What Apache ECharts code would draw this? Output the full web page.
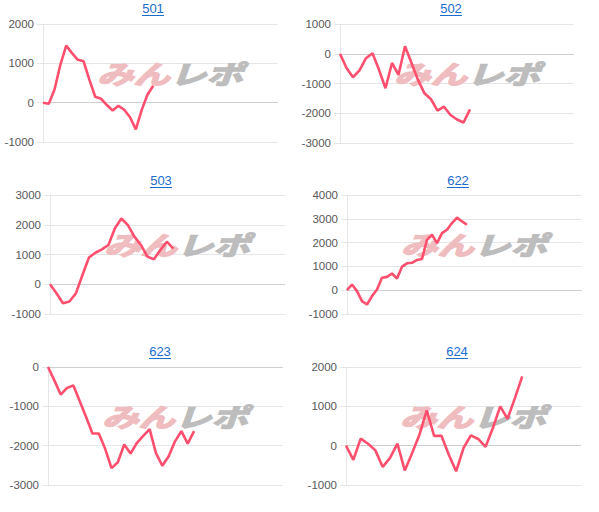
<!DOCTYPE html>
<html>
<head>
<meta charset="utf-8">
<script src="https://cdn.jsdelivr.net/npm/echarts@6/dist/echarts.min.js"></script>
<style>
html,body{margin:0;padding:0;background:#fff;}
#main{width:599px;height:512px;}
</style>
</head>
<body>
<div id="main"></div>
<script>
// ---- data ----
var titles = ['501', '502', '503', '622', '623', '624'];
var s501 = [0, -30, 340, 970, 1450, 1260, 1090, 1050, 580, 150, 100, -60, -200, -80, -180, -370, -680, -190, 200, 430];
var s502 = [0, -480, -790, -560, -150, 20, -540, -1160, -310, -710, 250, -310, -880, -1330, -1530, -1910, -1780, -2060, -2210, -2310, -1870];
var s503 = [0, -300, -640, -580, -300, 310, 900, 1060, 1170, 1320, 1880, 2210, 1990, 1600, 1320, 930, 840, 1150, 1430, 1200];
var s622 = [0, 240, -40, -460, -600, -250, 30, 520, 560, 700, 490, 990, 1130, 1150, 1270, 1310, 2120, 2330, 1980, 2400, 2540, 2820, 3050, 2890, 2750];
var s623 = [0, -340, -700, -530, -470, -870, -1270, -1690, -1690, -2080, -2570, -2420, -1970, -2200, -1930, -1750, -1580, -2190, -2510, -2270, -1890, -1630, -1950, -1630];
var s624 = [0, -360, 180, 50, -120, -540, -310, 50, -630, -190, 280, 900, 250, 250, -230, -650, -60, 260, 170, -30, 450, 1000, 680, 1210, 1760];
var seriesData = [s501, s502, s503, s622, s623, s624];
var xMax = [40.5, 36, 36.2, 47, 37, 32];
var yMin = [-1000, -3000, -1000, -1000, -3000, -1000];
var yMax = [2000, 1000, 3000, 4000, 0, 2000];

// ---- layout ----
var grids = [
  {left: 43, top: 24, width: 235, height: 118},
  {left: 340, top: 24, width: 234, height: 119},
  {left: 50, top: 195, width: 235, height: 119},
  {left: 347, top: 195, width: 235, height: 119},
  {left: 48, top: 367, width: 235, height: 118},
  {left: 346, top: 367, width: 235, height: 118}
];
var titlePos = [[153, 8], [451, 8], [161, 180], [458, 180], [160, 351], [457, 351]];

var option = {
  animation: false,
  grid: [], xAxis: [], yAxis: [], series: [], graphic: []
};
var titleColor = '#1b6ccf';
for (var i = 0; i < 6; i++) {
  var g = grids[i];
  option.grid.push({left: g.left, top: g.top, width: g.width, height: g.height, containLabel: false});
  option.xAxis.push({
    type: 'value', gridIndex: i, min: 0, max: xMax[i], show: false
  });
  option.yAxis.push({
    type: 'value', gridIndex: i, min: yMin[i], max: yMax[i], interval: 1000,
    axisLine: {show: true, lineStyle: {color: '#e6e6e6', width: 1}},
    axisTick: {show: true, length: 6, lineStyle: {color: '#e6e6e6'}},
    splitLine: {show: true, lineStyle: {color: '#e6e6e6', width: 1}},
    axisLabel: {color: '#585858', fontSize: 11.5, fontFamily: 'Liberation Sans, Arial, sans-serif', margin: 9,
      formatter: function (v) { return String(v); }}
  });
  var d = seriesData[i].map(function (v, k) { return [k, v]; });
  option.series.push({
    type: 'line', xAxisIndex: i, yAxisIndex: i, data: d,
    showSymbol: false, symbol: 'none', smooth: false,
    lineStyle: {color: '#ff4f6e', width: 2.6},
    itemStyle: {color: '#ff4f6e'},
    z: 5,
    markLine: {
      silent: true, symbol: 'none', label: {show: false},
      lineStyle: {color: '#cfcfcf', width: 1, type: 'solid'},
      data: [{yAxis: 0}], z: 1
    }
  });
  // watermark
  option.graphic.push({
    type: 'text', x: g.left + 54, y: g.top + 36, scaleX: 1.3, scaleY: 0.92, z: 2, silent: true,
    style: {text: 'みん', fill: '#efbcc0', stroke: '#efbcc0', lineWidth: 1.6,
      font: 'italic bold 28px "Noto Sans CJK JP", sans-serif', textVerticalAlign: 'top'}
  });
  option.graphic.push({
    type: 'text', x: g.left + 127, y: g.top + 36, scaleX: 1.3, scaleY: 0.92, z: 2, silent: true,
    style: {text: 'レポ', fill: '#bdbdbd', stroke: '#bdbdbd', lineWidth: 1.6,
      font: 'italic bold 28px "Noto Sans CJK JP", sans-serif', textVerticalAlign: 'top'}
  });
  // title
  var tp = titlePos[i];
  option.graphic.push({
    type: 'text', x: tp[0], y: tp[1], z: 10,
    style: {text: titles[i], fill: titleColor, font: '13px "Liberation Sans", Arial, sans-serif',
      textAlign: 'center', textVerticalAlign: 'middle'}
  });
  option.graphic.push({
    type: 'line', z: 10,
    shape: {x1: tp[0] - 11, y1: tp[1] + 7.5, x2: tp[0] + 11, y2: tp[1] + 7.5},
    style: {stroke: titleColor, lineWidth: 1}
  });
}
var chart = echarts.init(document.getElementById('main'), null, {renderer: 'svg'});
chart.setOption(option);
</script>
</body>
</html>
